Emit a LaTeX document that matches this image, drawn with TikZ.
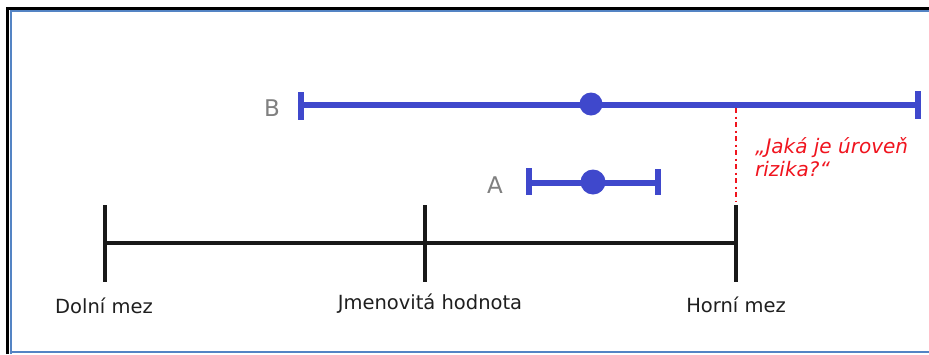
\documentclass[tikz,border=0pt]{standalone}
\usepackage{fontspec}
\setmainfont{DejaVu Sans}
\usetikzlibrary{positioning,calc}
\definecolor{barblue}{RGB}{63,72,204}
\definecolor{frameblue}{RGB}{84,132,196}
\definecolor{labgray}{RGB}{128,128,128}
\definecolor{riskred}{RGB}{240,20,30}

\begin{document}
\begin{tikzpicture}[x=1pt,y=-1pt,
    axis/.style={line width=3.5pt,black!90},
    errbar/.style={line width=5.5pt,barblue},
    meanpt/.style={circle,fill=barblue,inner sep=0pt,minimum size=#1},
    scalelab/.style={anchor=base,inner sep=0pt,text=black!88,font=\fontsize{19.5}{23}\selectfont},
    barlab/.style={anchor=base,inner sep=0pt,text=labgray,font=\fontsize{23}{27}\selectfont},
    risklab/.style={anchor=base west,inner sep=0pt,text=riskred,font=\fontsize{20}{23}\selectfont\itshape}]
  \fill[white] (0,0) rectangle (929,354);
  \useasboundingbox (0,0) rectangle (929,354);
  % frame
  \draw[line width=3pt] (7.5,354) -- (7.5,8) -- (929,8);
  \draw[frameblue,line width=2pt] (11,354) -- (11,11) -- (929,11);
  \draw[frameblue,line width=2pt] (11,352) -- (929,352);

  % tolerance scale
  \foreach \n/\x in {lo/105,nom/425,hi/736}{
    \coordinate (\n) at (\x,243);
    \coordinate (\n-t) at (\x,205);
    \coordinate (\n-b) at (\x,282);
    \draw[axis] (\n-t) -- (\n-b);
  }
  \draw[axis] (lo) -- (hi);
  \node[scalelab] (lolab) at (104,313) {Dolní mez};
  \node[scalelab] (nomlab) at (430,309) {Jmenovitá hodnota};
  \node[scalelab] (hilab) at (736,312) {Horní mez};

  % measurement B
  \coordinate (B-l) at (301,105);
  \coordinate (B-r) at (918,105);
  \draw[errbar] (B-l) -- (B-r);
  \draw[errbar] (301,92) -- (301,120);
  \draw[errbar] (918,91) -- (918,119);
  \node[meanpt=23pt] (B-m) at (591,104) {};
  \node[barlab] (Blab) at (272,116) {B};

  % measurement A
  \coordinate (A-l) at (529,183);
  \coordinate (A-r) at (658,183);
  \draw[errbar] (A-l) -- (A-r);
  \draw[errbar] (529,168) -- (529,195);
  \draw[errbar] (658,169) -- (658,195);
  \node[meanpt=25pt] (A-m) at (593,182) {};
  \node[barlab] (Alab) at (495,193) {A};

  % risk question
  \coordinate (risk-t) at (736,108);
  \coordinate (risk-b) at (736,201);
  \draw[riskred,line width=2.2pt,dash pattern=on 5pt off 3.5pt on 2pt off 3.5pt] (risk-t) -- (risk-b);
  \node[risklab] (risk1) at (755,153) {„Jaká je úroveň};
  \node[risklab] (risk2) at (755,176) {rizika?“};
\end{tikzpicture}
\end{document}
